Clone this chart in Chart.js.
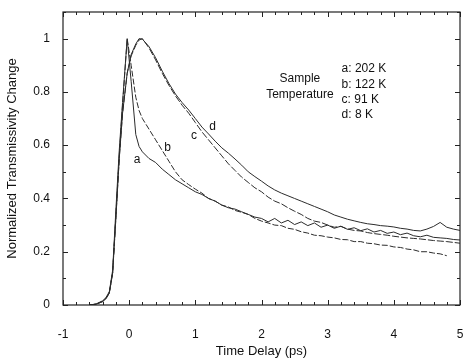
<!DOCTYPE html>
<html>
<head>
<meta charset="utf-8">
<script src="https://cdn.jsdelivr.net/npm/chart.js@4/dist/chart.umd.min.js"></script>
<style>
  html, body { margin: 0; padding: 0; background: #fff; overflow: hidden; }
  canvas { display: block; }
</style>
</head>
<body>
<canvas id="chart" width="466" height="362"></canvas>
<script>
// time delay grid (ps)
var timeDelay = [-0.6, -0.5, -0.4, -0.35, -0.3, -0.25, -0.2, -0.15, -0.1, -0.03, 0.03, 0.1, 0.15, 0.2,
    0.3, 0.4, 0.5, 0.6, 0.7, 0.8, 0.9, 1.0, 1.1, 1.2, 1.3, 1.4, 1.5, 1.6, 1.7, 1.8, 1.9, 2.0,
    2.1, 2.2, 2.3, 2.4, 2.5, 2.6, 2.7, 2.8, 2.9, 3.0, 3.1, 3.2, 3.3, 3.4, 3.5, 3.6, 3.7, 3.8, 3.9, 4.0,
    4.1, 4.2, 4.3, 4.4, 4.5, 4.6, 4.7, 4.8, 4.9, 5.0];

// a: 202 K
var seriesA = [0, 0.004, 0.016, 0.028, 0.05, 0.13, 0.36, 0.58, 0.76, 1.0, 0.84, 0.64, 0.595, 0.575,
    0.55, 0.535, 0.51, 0.49, 0.47, 0.455, 0.44, 0.425, 0.415, 0.4, 0.39, 0.375, 0.365, 0.36, 0.35, 0.34, 0.33, 0.325,
    0.312, 0.325, 0.308, 0.318, 0.302, 0.312, 0.298, 0.308, 0.292, 0.3, 0.288, 0.296, 0.284, 0.29, 0.279, 0.286, 0.274, 0.28, 0.269, 0.274,
    0.264, 0.27, 0.26, 0.256, 0.262, 0.254, 0.252, 0.25, 0.246, 0.244];
// b: 122 K
var seriesB = [0, 0.003, 0.014, 0.025, 0.048, 0.12, 0.34, 0.56, 0.75, 1.0, 0.9, 0.78, 0.73, 0.70,
    0.66, 0.62, 0.58, 0.54, 0.5, 0.47, 0.452, 0.435, 0.42, 0.4, 0.39, 0.375, 0.368, 0.355, 0.348, 0.34, 0.325, 0.315,
    0.308, 0.3, 0.298, 0.288, 0.284, 0.275, 0.27, 0.262, 0.26, 0.255, 0.252, 0.246, 0.245, 0.238, 0.238, 0.232, 0.23, 0.225, 0.224, 0.218,
    0.216, 0.21, 0.207, 0.2, 0.2, 0.195, 0.192, 0.185, null, null];
// c: 91 K
var seriesC = [0, 0.003, 0.013, 0.024, 0.045, 0.12, 0.33, 0.55, 0.72, 0.87, 0.935, 0.975, 0.995, 1.0,
    0.965, 0.92, 0.87, 0.825, 0.785, 0.75, 0.72, 0.685, 0.65, 0.62, 0.59, 0.56, 0.53, 0.505, 0.48, 0.46, 0.44, 0.425,
    0.405, 0.39, 0.38, 0.365, 0.352, 0.34, 0.325, 0.315, 0.31, 0.3, 0.292, 0.295, 0.285, 0.28, 0.278, 0.272, 0.268, 0.265, 0.262, 0.258,
    0.255, 0.252, 0.25, 0.248, 0.245, 0.242, 0.24, 0.238, 0.235, 0.232];
// d: 8 K
var seriesD = [0, 0.003, 0.013, 0.024, 0.045, 0.12, 0.33, 0.55, 0.72, 0.87, 0.94, 0.98, 1.0, 0.998,
    0.97, 0.928, 0.878, 0.832, 0.792, 0.76, 0.732, 0.7, 0.668, 0.642, 0.615, 0.59, 0.57, 0.548, 0.525, 0.5, 0.482, 0.465,
    0.447, 0.432, 0.42, 0.41, 0.4, 0.39, 0.38, 0.37, 0.36, 0.35, 0.338, 0.33, 0.322, 0.316, 0.31, 0.305, 0.302, 0.298, 0.296, 0.293,
    0.288, 0.285, 0.28, 0.278, 0.285, 0.295, 0.31, 0.292, 0.285, 0.28];

var xTicks = [-1, 0, 1, 2, 3, 4, 5];
var yTicks = [0, 0.2, 0.4, 0.6, 0.8, 1];

var legendLines = ['a: 202 K', 'b: 122 K', 'c: 91 K', 'd: 8 K'];
var curveLabels = ['a', 'b', 'c', 'd'];

function toPoints(ys) {
    return timeDelay.map(function(t, i) { return { x: t, y: ys[i] }; });
}

function lineSet(label, ys, dash) {
    return {
        label: label,
        data: toPoints(ys),
        borderColor: '#2b2b2b',
        borderWidth: 1,
        borderDash: dash,
        pointRadius: 0,
        tension: 0,
        fill: false,
        spanGaps: false
    };
}

var FONT = '"Liberation Sans", Arial, sans-serif';

// frame, inward ticks and text labels
var framePlugin = {
    id: 'frame',
    afterDatasetsDraw: function(chart) {
        var ctx = chart.ctx;
        var a = chart.chartArea;
        var xs = chart.scales.x, ys = chart.scales.y;
        ctx.save();
        ctx.strokeStyle = '#222';
        ctx.lineWidth = 1.2;
        ctx.strokeRect(a.left, a.top, a.right - a.left, a.bottom - a.top);
        ctx.lineWidth = 1;
        ctx.beginPath();
        for (var v = -1; v <= 5.001; v += 0.2) {
            var px = Math.round(xs.getPixelForValue(v)) + 0.5;
            var major = Math.abs(v - Math.round(v)) < 0.01;
            var len = major ? 5 : 3;
            ctx.moveTo(px, a.bottom); ctx.lineTo(px, a.bottom - len);
            ctx.moveTo(px, a.top); ctx.lineTo(px, a.top + len);
        }
        for (var w = 0; w <= 1.1001; w += 0.1) {
            var py = Math.round(ys.getPixelForValue(w)) + 0.5;
            var maj = Math.round(w * 10) % 2 === 0;
            var l2 = maj ? 5 : 3;
            ctx.moveTo(a.left, py); ctx.lineTo(a.left + l2, py);
            ctx.moveTo(a.right, py); ctx.lineTo(a.right - l2, py);
        }
        ctx.stroke();

        ctx.fillStyle = '#111';
        ctx.font = '12px ' + FONT;
        ctx.textBaseline = 'middle';
        ctx.textAlign = 'center';
        ctx.fillText('Sample', xs.getPixelForValue(2.58), ys.getPixelForValue(0.85));
        ctx.fillText('Temperature', xs.getPixelForValue(2.58), ys.getPixelForValue(0.79));
        ctx.textAlign = 'left';
        var legY = [0.887, 0.828, 0.772, 0.713];
        legendLines.forEach(function(t, i) {
            ctx.fillText(t, xs.getPixelForValue(3.21), ys.getPixelForValue(legY[i]));
        });
        ctx.textAlign = 'center';
        var labX = [0.12, 0.58, 0.98, 1.26];
        var labY = [0.547, 0.59, 0.634, 0.67];
        curveLabels.forEach(function(t, i) {
            ctx.fillText(t, xs.getPixelForValue(labX[i]), ys.getPixelForValue(labY[i]));
        });
        ctx.restore();
    }
};

new Chart(document.getElementById('chart'), {
    type: 'line',
    data: {
        datasets: [
            lineSet('a', seriesA, []),
            lineSet('b', seriesB, [6, 2]),
            lineSet('c', seriesC, [7, 2]),
            lineSet('d', seriesD, [])
        ]
    },
    options: {
        responsive: false,
        animation: false,
        layout: { padding: { left: 0, right: 6, top: 12, bottom: 0 } },
        plugins: {
            legend: { display: false },
            tooltip: { enabled: false }
        },
        scales: {
            x: {
                type: 'linear',
                min: -1,
                max: 5,
                afterBuildTicks: function(s) { s.ticks = xTicks.map(function(v) { return { value: v }; }); },
                afterFit: function(s) {
                    s.height = 57;
                    s.paddingLeft = 0;
                    s.paddingRight = 0;
                },
                grid: { display: false, drawTicks: false },
                border: { display: false },
                ticks: { padding: 22, color: '#111', font: { family: FONT, size: 12 } },
                title: {
                    display: true,
                    text: 'Time Delay (ps)',
                    color: '#111',
                    font: { family: FONT, size: 13 },
                    padding: { top: 0, bottom: 3 }
                }
            },
            y: {
                min: 0,
                max: 1.1,
                afterBuildTicks: function(s) { s.ticks = yTicks.map(function(v) { return { value: v }; }); },
                afterFit: function(s) {
                    s.width = 63;
                    s.paddingTop = 0;
                    s.paddingBottom = 0;
                },
                grid: { display: false, drawTicks: false },
                border: { display: false },
                ticks: {
                    padding: 13,
                    color: '#111',
                    font: { family: FONT, size: 12 },
                    callback: function(v) { return String(Math.round(v * 10) / 10); }
                },
                title: {
                    display: true,
                    text: 'Normalized Transmissivity Change',
                    color: '#111',
                    font: { family: FONT, size: 13 },
                    padding: { top: 5, bottom: 0 }
                }
            }
        }
    },
    plugins: [framePlugin]
});
</script>
</body>
</html>
